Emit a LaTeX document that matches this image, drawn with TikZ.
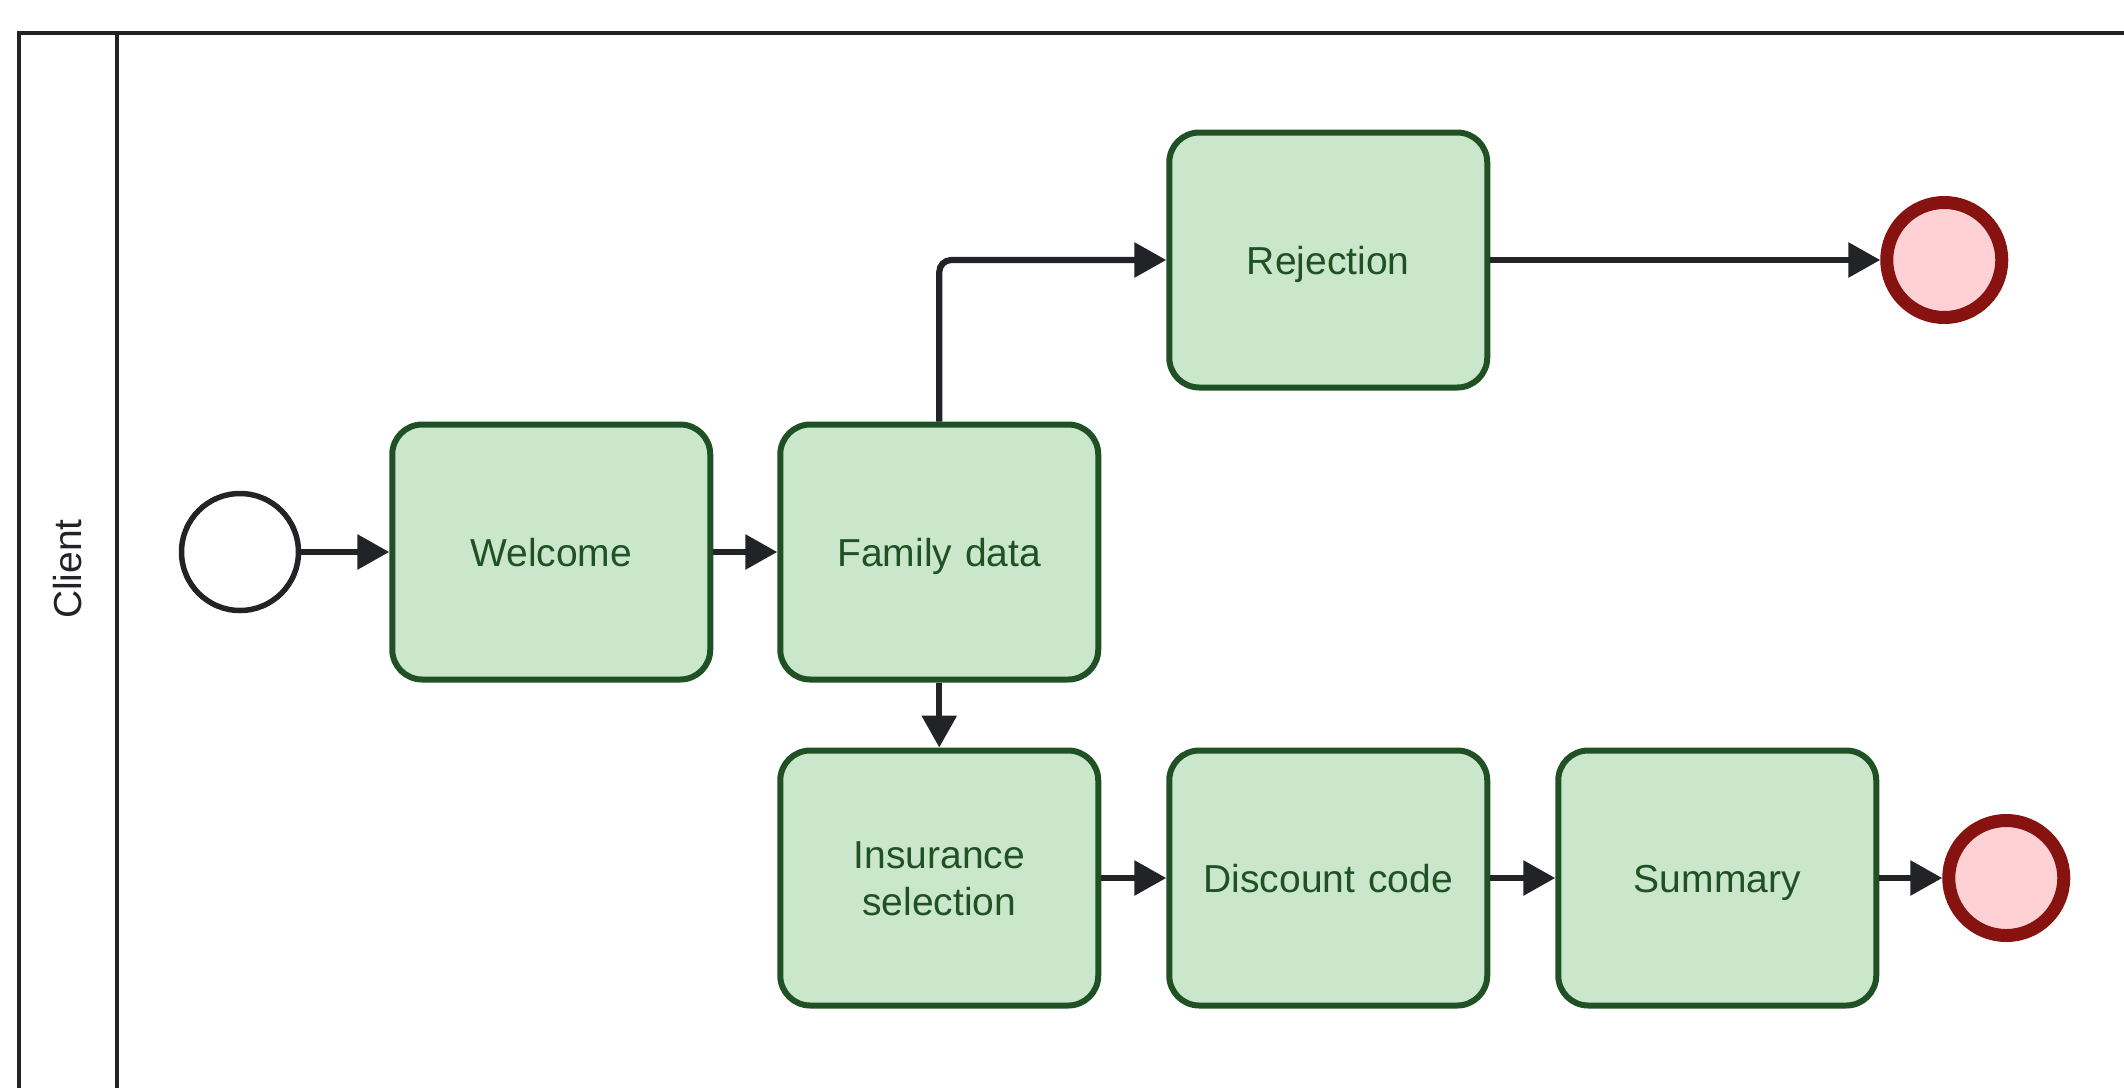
\documentclass[tikz,border=0pt]{standalone}
\usepackage{fontspec}
\setmainfont{Liberation Sans}
\usetikzlibrary{arrows.meta, positioning}
\definecolor{taskfill}{HTML}{CAE7CB}
\definecolor{taskline}{HTML}{1F5124}
\definecolor{endfill}{HTML}{FFD1D5}
\definecolor{endline}{HTML}{86130F}
\definecolor{flowline}{HTML}{222327}
\newcommand\taskstrut{\vrule width 0pt height 18.5pt depth 4.5pt}

\begin{document}
\begin{tikzpicture}[
  x=0.5pt, y=-0.5pt,
  node distance=32pt,
  task/.style={rectangle, rounded corners=15pt, draw=taskline, fill=taskfill, line width=3pt,
               minimum width=159pt, minimum height=127.5pt, text width=140pt, align=center,
               text=taskline, font=\fontsize{19.5}{23.5}\selectfont,
               execute at begin node=\taskstrut, execute at end node=\taskstrut},
  startev/.style={circle, draw=flowline, fill=white, line width=2.75pt, minimum size=58.5pt, inner sep=0pt},
  endev/.style={circle, draw=endline, fill=endfill, line width=6.5pt, minimum size=57.5pt, inner sep=0pt},
  flow/.style={-{Triangle[length=16pt, width=17pt]}, line width=3.1pt, draw=flowline},
  pool/.style={draw=flowline, line width=2.2pt},
]
\useasboundingbox (0,0) rectangle (2124,1087);
\clip (0,0) rectangle (2124,1087);
% pool and lane
\draw[pool] (2150,33) -- (19,33) -- (19,1110);
\draw[pool] (117,33) -- (117,1110);
\node[rotate=90, text=flowline, font=\fontsize{19.5}{23.5}\selectfont] (lanelabel) at (68,569) {Client};
% events and tasks
\node[startev] (start) at (240,552) {};
\node[task, right=44pt of start] (welcome) {Welcome};
\node[task, right=of welcome] (family) {Family data};
\node[task, right=32.5pt of family, yshift=146pt] (rejection) {Rejection};
\node[endev, right=195pt of rejection] (endrej) {};
\node[task, below=32.5pt of family] (insurance) {Insurance\\selection};
\node[task, right=32.5pt of insurance] (discount) {Discount code};
\node[task, right=32.5pt of discount] (summary) {Summary};
\node[endev, right=31.5pt of summary] (endsum) {};
% flows
\draw[flow] (start) -- (welcome);
\draw[flow] (welcome) -- (family);
\draw[flow, rounded corners=6pt] (family.north) |- (rejection.west);
\draw[flow] (rejection) -- (endrej);
\draw[flow] (family) -- (insurance);
\draw[flow] (insurance) -- (discount);
\draw[flow] (discount) -- (summary);
\draw[flow] (summary) -- (endsum);
\end{tikzpicture}
\end{document}
